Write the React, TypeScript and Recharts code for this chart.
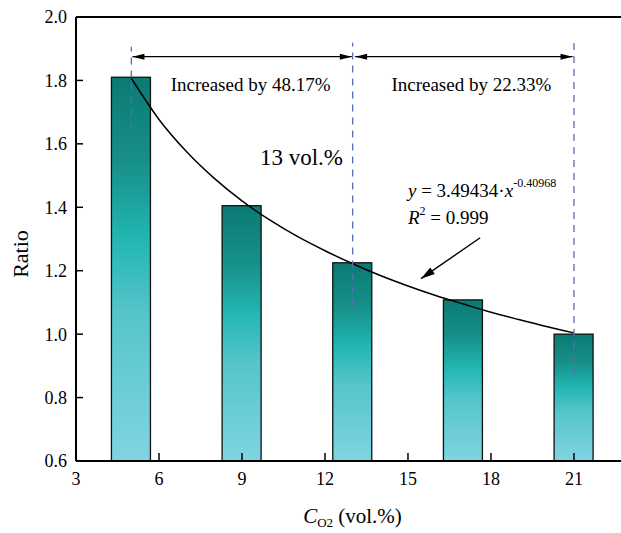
import React from 'react';
import {
  ComposedChart,
  Bar,
  Line,
  XAxis,
  YAxis,
  ReferenceLine,
  ReferenceDot,
} from 'recharts';

// O2 concentration (vol.%) and measured ratio
const oxygen = [5, 9, 13, 17, 21];
const ratio = [1.81, 1.405, 1.225, 1.108, 1.0];

// power-law fit curve
const fitX = [5, 6, 7, 8, 9, 10, 11, 12, 13, 14, 15, 16, 17, 18, 19, 20, 21];
const fitY = [1.807, 1.677, 1.575, 1.491, 1.42, 1.36, 1.308, 1.263, 1.222, 1.185, 1.152, 1.122, 1.095, 1.069, 1.046, 1.024, 1.004];

const xTicks = [3, 6, 9, 12, 15, 18, 21];
const yTicks = [0.6, 0.8, 1.0, 1.2, 1.4, 1.6, 1.8, 2.0];

const barData = oxygen.map((x, i) => ({ x, ratio: ratio[i] }));
const fitData = fitX.map((x, i) => ({ x, fit: fitY[i] }));

const FONT = '"Liberation Serif", "Times New Roman", serif';
const DASH = '#5b6db8';

// bar with fixed width centred on its x value
const GradientBar = (props: any) => {
  const { x, y, width, height } = props;
  if (height == null || height <= 0) return null;
  const cx = x + width / 2;
  const w = 39;
  return (
    <rect
      x={cx - w / 2}
      y={y}
      width={w}
      height={height}
      fill="url(#barFill)"
      stroke="#111"
      strokeWidth={1.3}
    />
  );
};

// head polygon at (tx,ty) pointing away from (fx,fy)
const head = (fx: number, fy: number, tx: number, ty: number, len = 12, half = 3) => {
  const a = Math.atan2(ty - fy, tx - fx);
  const bx = tx - len * Math.cos(a);
  const by = ty - len * Math.sin(a);
  const px = -Math.sin(a) * half;
  const py = Math.cos(a) * half;
  return `${tx},${ty} ${bx + px},${by + py} ${bx - px},${by - py}`;
};

const DoubleArrow = (props: any) => {
  const { x1, y1, x2, y2 } = props;
  return (
    <g>
      <line x1={x1} y1={y1} x2={x2} y2={y2} stroke="#000" strokeWidth={1.4} />
      <polygon points={head(x2, y2, x1, y1)} fill="#000" />
      <polygon points={head(x1, y1, x2, y2)} fill="#000" />
    </g>
  );
};

const SingleArrow = (props: any) => {
  const { x1, y1, x2, y2 } = props;
  return (
    <g>
      <line x1={x1} y1={y1} x2={x2} y2={y2} stroke="#000" strokeWidth={1.4} />
      <polygon points={head(x1, y1, x2, y2, 14, 4)} fill="#000" />
    </g>
  );
};

const textAt = (content: React.ReactNode, anchor: string, size: number) => (p: any) => (
  <text x={p.cx} y={p.cy} textAnchor={anchor} fontFamily={FONT} fontSize={size} fill="#000">
    {content}
  </text>
);

const XTitle = (props: any) => {
  const vb = props.viewBox || {};
  return (
    <text x={vb.x + vb.width / 2 + 4} y={vb.y + 62} textAnchor="middle" fontFamily={FONT} fontSize={21} fill="#000">
      <tspan fontStyle="italic">C</tspan>
      <tspan fontSize={13} dy={4}>O2</tspan>
      <tspan dy={-4}> (vol.%)</tspan>
    </text>
  );
};

const YTitle = (props: any) => {
  const vb = props.viewBox || {};
  const cx = vb.x + 4;
  const cy = vb.y + vb.height / 2 + 15;
  return (
    <text
      x={cx}
      y={cy}
      transform={`rotate(-90, ${cx}, ${cy})`}
      textAnchor="middle"
      dominantBaseline="central"
      fontFamily={FONT}
      fontSize={22}
      fill="#000"
    >
      Ratio
    </text>
  );
};

const tickStyle = { fill: '#000', fontSize: 18, fontFamily: FONT };

export default function App() {
  return (
    <div style={{ position: 'absolute', left: 0, top: 0, background: '#fff' }}>
      <ComposedChart
        width={621}
        height={533}
        data={barData}
        margin={{ top: 17, right: 0, bottom: 32, left: 16 }}
      >
        <defs>
          <linearGradient id="barFill" x1="0" y1="0" x2="0" y2="1">
            <stop offset="0%" stopColor="#0b7a74" />
            <stop offset="22%" stopColor="#178f89" />
            <stop offset="42%" stopColor="#22b6b2" />
            <stop offset="62%" stopColor="#56c5cc" />
            <stop offset="100%" stopColor="#80d4e2" />
          </linearGradient>
        </defs>
        <XAxis
          dataKey="x"
          type="number"
          domain={[3, 22.7]}
          ticks={xTicks}
          allowDataOverflow
          height={40}
          tickSize={-8}
          tickMargin={19}
          tick={tickStyle}
          axisLine={{ stroke: '#000', strokeWidth: 2 }}
          tickLine={{ stroke: '#000', strokeWidth: 1.5 }}
          label={<XTitle />}
        />
        <YAxis
          type="number"
          domain={[0.6, 2.0]}
          ticks={yTicks}
          allowDataOverflow
          width={60}
          tickSize={-7}
          tickMargin={16}
          tick={tickStyle}
          tickFormatter={(v: number) => v.toFixed(1)}
          axisLine={{ stroke: '#000', strokeWidth: 2 }}
          tickLine={{ stroke: '#000', strokeWidth: 1.5 }}
          label={<YTitle />}
        />
        <ReferenceLine y={2.0} stroke="#000" strokeWidth={2} />
        <Bar dataKey="ratio" barSize={39} shape={<GradientBar />} isAnimationActive={false} />
        <Line
          data={fitData}
          dataKey="fit"
          type="monotone"
          stroke="#000"
          strokeWidth={1.5}
          dot={false}
          activeDot={false}
          isAnimationActive={false}
        />

        {/* dashed guides */}
        <ReferenceLine segment={[{ x: 5, y: 1.645 }, { x: 5, y: 1.906 }]} stroke={DASH} strokeWidth={1.3} strokeDasharray="7 6" />
        <ReferenceLine segment={[{ x: 13, y: 1.087 }, { x: 13, y: 1.919 }]} stroke={DASH} strokeWidth={1.3} strokeDasharray="7 6" />
        <ReferenceLine segment={[{ x: 21, y: 0.871 }, { x: 21, y: 1.919 }]} stroke={DASH} strokeWidth={1.3} strokeDasharray="7 6" />

        {/* span arrows */}
        <ReferenceLine segment={[{ x: 5.04, y: 1.875 }, { x: 12.97, y: 1.875 }]} shape={<DoubleArrow />} />
        <ReferenceLine segment={[{ x: 13.09, y: 1.875 }, { x: 20.95, y: 1.875 }]} shape={<DoubleArrow />} />
        <ReferenceLine segment={[{ x: 17.61, y: 1.304 }, { x: 15.47, y: 1.175 }]} shape={<SingleArrow />} />

        {/* annotations */}
        <ReferenceDot x={9.31} y={1.766} r={0} shape={textAt('Increased by 48.17%', 'middle', 19)} />
        <ReferenceDot x={17.29} y={1.768} r={0} shape={textAt('Increased by 22.33%', 'middle', 19)} />
        <ReferenceDot x={9.65} y={1.534} r={0} shape={textAt('13 vol.%', 'start', 23)} />
        <ReferenceDot
          x={15.0}
          y={1.433}
          r={0}
          shape={textAt(
            <>
              <tspan fontStyle="italic">y</tspan>
              <tspan> = 3.49434·</tspan>
              <tspan fontStyle="italic">x</tspan>
              <tspan fontSize={12} dy={-10}>-0.40968</tspan>
            </>,
            'start',
            19
          )}
        />
        <ReferenceDot
          x={15.0}
          y={1.348}
          r={0}
          shape={textAt(
            <>
              <tspan fontStyle="italic">R</tspan>
              <tspan fontSize={12} dy={-9}>2</tspan>
              <tspan dy={9}> = 0.999</tspan>
            </>,
            'start',
            19
          )}
        />
      </ComposedChart>
    </div>
  );
}
